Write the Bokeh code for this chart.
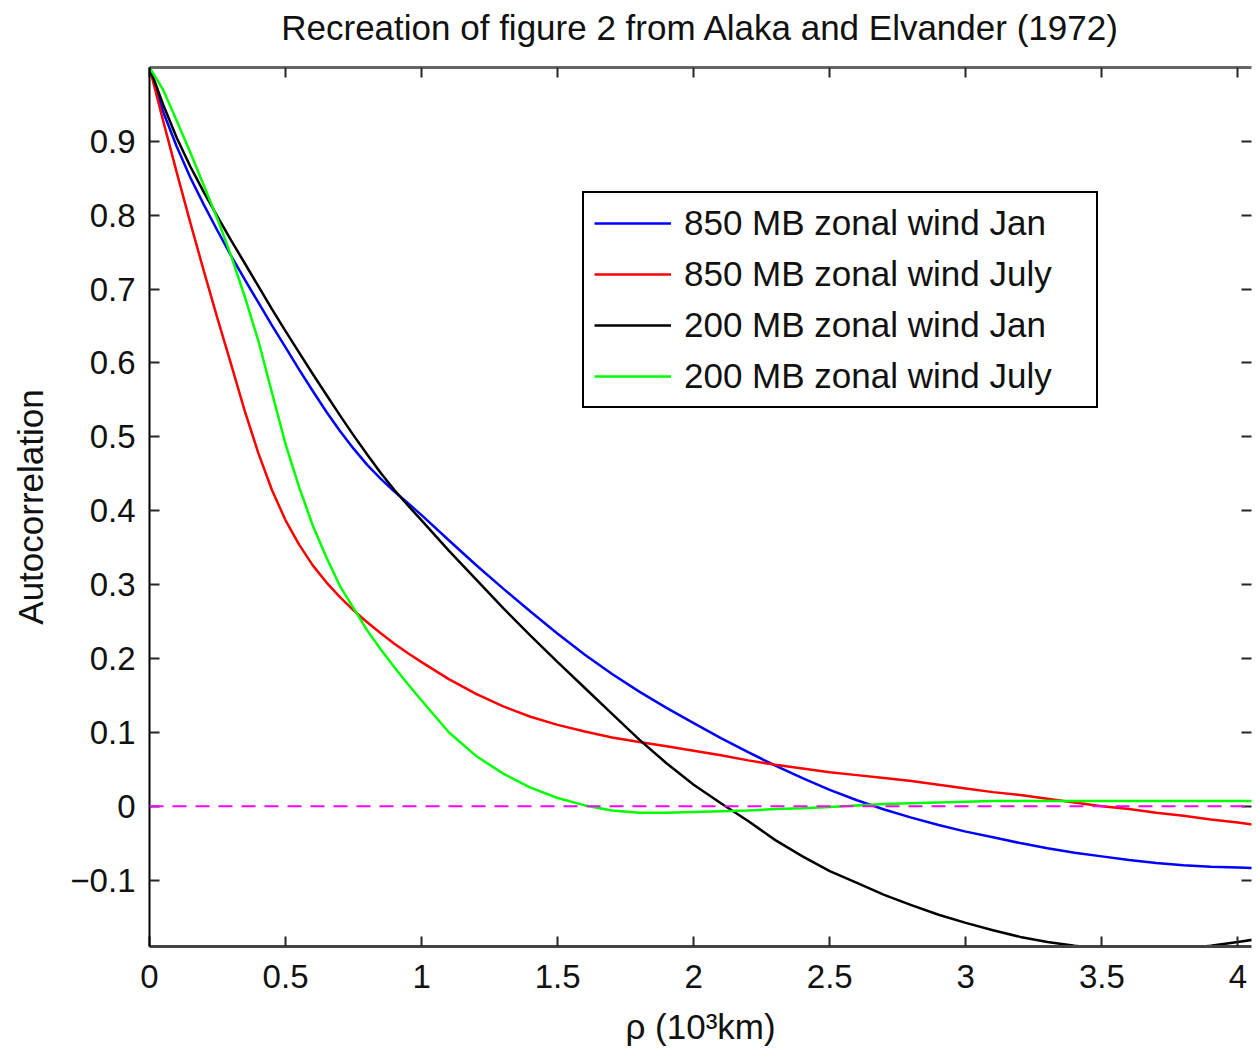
from bokeh.plotting import figure
from bokeh.models import (Range1d, LinearAxis, FixedTicker, Legend, LegendItem,
                          Span, ColumnDataSource, CustomLabelingPolicy)
from bokeh.embed import file_html
from bokeh.resources import INLINE

# ---------------- data ----------------
rho = [0.0, 0.05, 0.1, 0.15, 0.2, 0.25, 0.3, 0.35, 0.4, 0.45, 0.5, 0.55, 0.6, 0.65,
       0.7, 0.75, 0.8, 0.85, 0.9, 0.95, 1.0, 1.1, 1.2, 1.3, 1.4, 1.5, 1.6, 1.7, 1.8,
       1.9, 2.0, 2.1, 2.2, 2.3, 2.4, 2.5, 2.6, 2.7, 2.8, 2.9, 3.0, 3.1, 3.2, 3.3,
       3.4, 3.5, 3.6, 3.7, 3.8, 3.9, 4.0, 4.07]

jan_850 = [1.0, 0.94, 0.893, 0.851, 0.814, 0.779, 0.745, 0.713, 0.682, 0.651, 0.621,
           0.591, 0.562, 0.534, 0.508, 0.484, 0.462, 0.443, 0.426, 0.41, 0.394, 0.36,
           0.3265, 0.2945, 0.2635, 0.2335, 0.205, 0.179, 0.155, 0.133, 0.1125, 0.092,
           0.073, 0.055, 0.038, 0.022, 0.008, -0.0045, -0.0155, -0.0255, -0.0345,
           -0.042, -0.05, -0.057, -0.063, -0.068, -0.073, -0.077, -0.08, -0.082,
           -0.083, -0.084]

july_850 = [1.0, 0.928, 0.858, 0.79, 0.724, 0.66, 0.598, 0.535, 0.478, 0.428, 0.387,
            0.354, 0.326, 0.303, 0.283, 0.265, 0.249, 0.234, 0.22, 0.207, 0.195, 0.172,
            0.152, 0.135, 0.121, 0.11, 0.101, 0.093, 0.087, 0.081, 0.075, 0.069, 0.062,
            0.056, 0.051, 0.046, 0.042, 0.038, 0.034, 0.029, 0.024, 0.019, 0.015, 0.01,
            0.005, 0.0, -0.004, -0.009, -0.013, -0.018, -0.022, -0.026]

jan_200 = [1.0, 0.95, 0.905, 0.866, 0.831, 0.798, 0.766, 0.735, 0.704, 0.673, 0.643,
           0.614, 0.585, 0.557, 0.529, 0.502, 0.476, 0.451, 0.428, 0.407, 0.387, 0.346,
           0.307, 0.268, 0.231, 0.195, 0.16, 0.125, 0.09, 0.058, 0.029, 0.004, -0.02,
           -0.046, -0.068, -0.088, -0.104, -0.12, -0.134, -0.147, -0.158, -0.168,
           -0.177, -0.184, -0.189, -0.193, -0.195, -0.195, -0.193, -0.189, -0.184, -0.18]

july_200 = [1.0, 0.97, 0.928, 0.885, 0.84, 0.795, 0.745, 0.69, 0.63, 0.56, 0.49, 0.432,
            0.38, 0.337, 0.298, 0.268, 0.238, 0.212, 0.188, 0.165, 0.143, 0.1, 0.068,
            0.044, 0.025, 0.011, 0.001, -0.006, -0.009, -0.009, -0.008, -0.007, -0.006,
            -0.004, -0.003, -0.001, 0.001, 0.003, 0.004, 0.005, 0.006, 0.007, 0.007,
            0.007, 0.007, 0.007, 0.007, 0.007, 0.007, 0.007, 0.007, 0.007]

series_names = ["850 MB zonal wind Jan", "850 MB zonal wind July",
                "200 MB zonal wind Jan", "200 MB zonal wind July"]
series_colors = ["#0000FF", "#FF0000", "#000000", "#00FF00"]

x_ticks = [0, 0.5, 1, 1.5, 2, 2.5, 3, 3.5, 4]
x_tick_labels = ["0", "0.5", "1", "1.5", "2", "2.5", "3", "3.5", "4"]
y_ticks = [-0.1, 0, 0.1, 0.2, 0.3, 0.4, 0.5, 0.6, 0.7, 0.8, 0.9]
y_tick_labels = ["\u22120.1", "0", "0.1", "0.2", "0.3", "0.4", "0.5", "0.6", "0.7",
                 "0.8", "0.9"]

title_text = "Recreation of figure 2 from Alaka and Elvander (1972)"
x_label = "\u03c1 (10\u00b3km)"
y_label = "Autocorrelation"

x_min, x_max = 0.0, 4.05
y_min, y_max = -0.19, 1.0

# ---------------- figure ----------------
FONT = "Liberation Sans"
AXIS_COLOR = "#262626"

p = figure(width=1256, height=1049, output_backend="svg", toolbar_location=None,
           x_range=Range1d(x_min, x_max), y_range=Range1d(y_min, y_max),
           min_border_left=149, min_border_right=0, min_border_top=67,
           min_border_bottom=103, x_axis_type=None, y_axis_type=None)
p.background_fill_color = "white"
p.border_fill_color = "white"
p.outline_line_color = None
p.grid.visible = False
p.title.visible = False

xt = FixedTicker(ticks=x_ticks, minor_ticks=[])
yt = FixedTicker(ticks=y_ticks, minor_ticks=[])


def style_axis(ax, labels=True):
    ax.axis_line_color = AXIS_COLOR
    ax.axis_line_width = 2
    ax.major_tick_line_color = AXIS_COLOR
    ax.major_tick_line_width = 2
    ax.major_tick_in = 10
    ax.major_tick_out = 0
    ax.minor_tick_line_color = None
    ax.axis_label_text_font = FONT
    ax.axis_label_text_font_size = "35px"
    ax.axis_label_text_font_style = "normal"
    ax.axis_label_text_color = "#111111"
    if labels:
        ax.major_label_text_font = FONT
        ax.major_label_text_font_size = "33px"
        ax.major_label_text_color = "#111111"
    else:
        # tick marks only: no tick labels at all
        ax.major_label_policy = CustomLabelingPolicy(
            code="for (const i of Array.from(indices)) { indices.unset(i) }; return indices")
        ax.major_label_text_font_size = "1px"
        ax.major_label_standoff = 0


xaxis = LinearAxis(ticker=xt, axis_label=x_label)
xaxis.major_label_overrides = {t: s for t, s in zip(x_ticks, x_tick_labels)}
style_axis(xaxis)
xaxis.axis_line_color = "#444444"
xaxis.axis_line_width = 3
xaxis.major_label_standoff = 18
xaxis.axis_label_standoff = 16
p.add_layout(xaxis, "below")

yaxis = LinearAxis(ticker=yt, axis_label=y_label)
yaxis.major_label_overrides = {t: s for t, s in zip(y_ticks, y_tick_labels)}
style_axis(yaxis)
yaxis.axis_line_color = "#000000"
yaxis.major_label_standoff = 14
yaxis.axis_label_standoff = 17
p.add_layout(yaxis, "left")

# top frame edge with inward ticks; carries the chart title above it
top_axis = LinearAxis(ticker=xt, axis_label=title_text)
style_axis(top_axis, labels=False)
top_axis.axis_line_color = "#666666"
top_axis.axis_line_width = 3
top_axis.axis_label_standoff = 17
p.add_layout(top_axis, "above")

right_axis = LinearAxis(ticker=yt)
style_axis(right_axis, labels=False)
right_axis.axis_line_color = None
p.add_layout(right_axis, "right")

# zero line
p.add_layout(Span(location=0, dimension="width", line_color="#FF00FF",
                  line_width=2, line_dash="14 9"))

src = ColumnDataSource(dict(x=rho, jan_850=jan_850, july_850=july_850,
                            jan_200=jan_200, july_200=july_200))
keys = ["jan_850", "july_850", "jan_200", "july_200"]
items = []
for key, name, col in zip(keys, series_names, series_colors):
    r = p.line("x", key, source=src, line_color=col, line_width=2.5)
    items.append(LegendItem(label=name, renderers=[r]))

legend = Legend(items=items, location=(433, 538))
legend.label_text_font = FONT
legend.label_text_font_size = "35px"
legend.label_text_color = "#111111"
legend.border_line_color = "#000000"
legend.border_line_alpha = 1.0
legend.border_line_width = 2.5
legend.background_fill_color = "white"
legend.background_fill_alpha = 1
legend.padding = 10
legend.spacing = 11
legend.glyph_width = 77
legend.glyph_height = 26
legend.label_height = 26
legend.label_standoff = 13
legend.label_width = 402
legend.margin = 0
p.add_layout(legend, "center")

open("out.html", "w").write(file_html(p, INLINE))
